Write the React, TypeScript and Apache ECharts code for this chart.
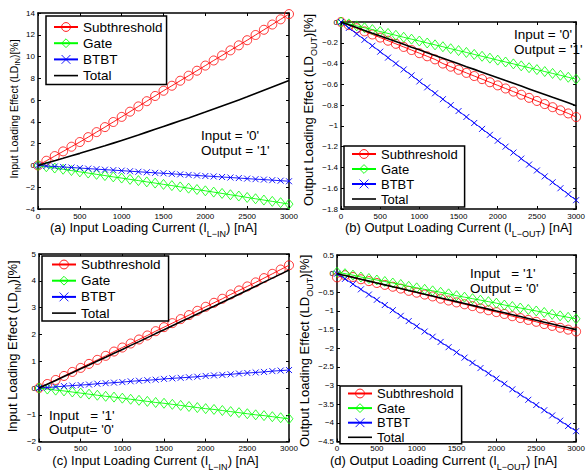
import React, { useEffect, useRef } from "react";
import * as echarts from "echarts";

// Load current [nA]
const X_NA = [0, 100, 200, 300, 400, 500, 600, 700, 800, 900, 1000, 1100, 1200, 1300, 1400, 1500, 1600, 1700, 1800, 1900, 2000, 2100, 2200, 2300, 2400, 2500, 2600, 2700, 2800, 2900, 3000];

// (a) Input loading, Input='0'
const A_SUB = [0, 0.43, 0.86, 1.29, 1.72, 2.15, 2.6, 3.06, 3.52, 3.99, 4.46, 4.94, 5.42, 5.9, 6.38, 6.86, 7.32, 7.78, 8.24, 8.7, 9.17, 9.64, 10.1, 10.57, 11.03, 11.5, 11.98, 12.46, 12.94, 13.42, 13.9];
const A_GATE = [0, -0.12, -0.24, -0.35, -0.47, -0.59, -0.7, -0.82, -0.93, -1.05, -1.16, -1.28, -1.39, -1.51, -1.62, -1.74, -1.85, -1.97, -2.09, -2.21, -2.33, -2.45, -2.57, -2.69, -2.81, -2.94, -3.06, -3.18, -3.3, -3.42, -3.55];
const A_BTBT = [0, -0.05, -0.1, -0.14, -0.19, -0.24, -0.29, -0.34, -0.39, -0.43, -0.48, -0.53, -0.58, -0.63, -0.68, -0.72, -0.77, -0.82, -0.87, -0.92, -0.97, -1.01, -1.06, -1.11, -1.16, -1.21, -1.26, -1.3, -1.35, -1.4, -1.45];
const A_TOTAL = [0, 0.22, 0.44, 0.66, 0.89, 1.11, 1.34, 1.57, 1.8, 2.05, 2.3, 2.55, 2.8, 3.06, 3.32, 3.58, 3.84, 4.1, 4.36, 4.63, 4.9, 5.18, 5.46, 5.74, 6.02, 6.3, 6.6, 6.9, 7.2, 7.5, 7.8];

// (b) Output loading, Input='0'
const B_SUB = [0, -0.03, -0.06, -0.09, -0.12, -0.15, -0.18, -0.21, -0.24, -0.27, -0.3, -0.33, -0.36, -0.4, -0.43, -0.46, -0.49, -0.52, -0.55, -0.58, -0.61, -0.64, -0.67, -0.7, -0.73, -0.76, -0.79, -0.82, -0.85, -0.88, -0.915];
const B_GATE = [0, -0.018, -0.037, -0.055, -0.073, -0.092, -0.11, -0.128, -0.147, -0.165, -0.183, -0.202, -0.22, -0.238, -0.257, -0.275, -0.293, -0.312, -0.33, -0.348, -0.367, -0.385, -0.403, -0.422, -0.44, -0.458, -0.477, -0.495, -0.513, -0.532, -0.55];
const B_BTBT = [0, -0.057, -0.114, -0.171, -0.229, -0.286, -0.343, -0.4, -0.457, -0.514, -0.572, -0.629, -0.686, -0.743, -0.8, -0.857, -0.914, -0.972, -1.029, -1.086, -1.143, -1.2, -1.257, -1.315, -1.372, -1.429, -1.486, -1.543, -1.6, -1.658, -1.715];
const B_TOTAL = [0, -0.027, -0.054, -0.081, -0.108, -0.134, -0.161, -0.188, -0.215, -0.242, -0.268, -0.295, -0.322, -0.349, -0.376, -0.403, -0.43, -0.456, -0.483, -0.51, -0.537, -0.564, -0.59, -0.617, -0.644, -0.671, -0.698, -0.725, -0.751, -0.778, -0.805];

// (c) Input loading, Input='1'
const C_SUB = [0, 0.15, 0.3, 0.45, 0.6, 0.75, 0.9, 1.05, 1.2, 1.36, 1.51, 1.66, 1.81, 1.96, 2.12, 2.27, 2.42, 2.57, 2.72, 2.88, 3.03, 3.18, 3.33, 3.49, 3.64, 3.79, 3.94, 4.1, 4.26, 4.42, 4.58];
const C_GATE = [0, -0.04, -0.08, -0.11, -0.15, -0.19, -0.23, -0.27, -0.31, -0.34, -0.38, -0.42, -0.46, -0.5, -0.54, -0.57, -0.61, -0.65, -0.69, -0.73, -0.77, -0.8, -0.84, -0.88, -0.92, -0.96, -1.0, -1.03, -1.07, -1.11, -1.15];
const C_BTBT = [0, 0.02, 0.04, 0.07, 0.09, 0.11, 0.13, 0.16, 0.18, 0.2, 0.22, 0.25, 0.27, 0.29, 0.31, 0.34, 0.36, 0.38, 0.4, 0.42, 0.45, 0.47, 0.49, 0.51, 0.54, 0.56, 0.58, 0.6, 0.63, 0.65, 0.67];
const C_TOTAL = [0, 0.14, 0.28, 0.43, 0.57, 0.72, 0.86, 1.01, 1.15, 1.3, 1.44, 1.59, 1.73, 1.88, 2.03, 2.17, 2.32, 2.47, 2.61, 2.76, 2.91, 3.05, 3.2, 3.35, 3.5, 3.65, 3.8, 3.95, 4.1, 4.25, 4.4];

// (d) Output loading, Input='1'
const D_SUB = [-0.1, -0.04, -0.09, -0.15, -0.2, -0.25, -0.3, -0.35, -0.4, -0.46, -0.51, -0.56, -0.61, -0.67, -0.72, -0.77, -0.82, -0.87, -0.93, -0.98, -1.03, -1.08, -1.14, -1.19, -1.24, -1.29, -1.35, -1.4, -1.45, -1.5, -1.55];
const D_GATE = [0.04, 0.0, -0.04, -0.09, -0.13, -0.17, -0.21, -0.25, -0.29, -0.34, -0.38, -0.42, -0.46, -0.5, -0.54, -0.59, -0.63, -0.67, -0.71, -0.75, -0.79, -0.84, -0.88, -0.92, -0.96, -1.0, -1.04, -1.09, -1.13, -1.17, -1.21];
const D_BTBT = [0, -0.14, -0.28, -0.42, -0.56, -0.7, -0.84, -0.98, -1.13, -1.27, -1.41, -1.55, -1.69, -1.83, -1.97, -2.11, -2.25, -2.39, -2.53, -2.67, -2.81, -2.95, -3.1, -3.24, -3.38, -3.52, -3.66, -3.8, -3.94, -4.08, -4.22];
const D_TOTAL = [0, -0.05, -0.1, -0.15, -0.2, -0.25, -0.3, -0.35, -0.4, -0.45, -0.5, -0.55, -0.6, -0.65, -0.7, -0.75, -0.8, -0.85, -0.9, -0.95, -1.0, -1.05, -1.1, -1.15, -1.2, -1.25, -1.3, -1.35, -1.4, -1.45, -1.5];

const SERIES_NAMES = ["Subthreshold", "Gate", "BTBT", "Total"];

const FONT = '"Liberation Sans", Arial, Helvetica, sans-serif';
const RED = "#ff0000";
const GREEN = "#00ff00";
const BLUE = "#0000ff";
const BLACK = "#000000";
const CROSS = "path://M0,0L10,10M10,0L0,10";

type Panel = {
  grid: any;
  y: { min: number; max: number; interval: number };
  data: number[][];
  xName: string;
  xGap: number;
  xPad: number[];
  yName: string;
  yGap: number;
  yPad: number[];
  ySmall?: boolean;
  legend: any;
  notes: { text: string; x: number; y: number }[];
};

const PANELS: Panel[] = [
  {
    grid: { left: 38, top: 13, width: 251, height: 196 },
    y: { min: -4, max: 14, interval: 2 },
    data: [A_SUB, A_GATE, A_BTBT, A_TOTAL],
    xName: "{m|(a) Input Loading Current (I}{s|L−IN}{m|) [nA]}",
    xGap: -3,
    xPad: [0, 20, 0, 0],
    yName: "{m|Input Loading Effect (LD}{s|IN}{m|)[%]}",
    yGap: 16,
    yPad: [0, 0, 0, 4],
    ySmall: true,
    legend: { left: 46, top: 16, fontSize: 13.5, itemGap: 2.2, padding: [4, 4, 2, 7] },
    notes: [
      { text: "Input = '0'", x: 201, y: 135 },
      { text: "Output = '1'", x: 201, y: 150 },
    ],
  },
  {
    grid: { left: 341, top: 22, width: 241, height: 187 },
    y: { min: -1.8, max: 0, interval: 0.2 },
    data: [B_SUB, B_GATE, B_BTBT, B_TOTAL],
    xName: "{m|(b) Output Loading Current (I}{s|L−OUT}{m|) [nA]}",
    xGap: -2,
    xPad: [0, 0, 0, 0],
    yName: "{m|Output Loading Effect (LD}{s|OUT}{m|)[%]}",
    yGap: 18,
    yPad: [0, 0, 0, 11],
    legend: { left: 344, top: 146, fontSize: 13, itemGap: 2, padding: [1.5, 7, 1.5, 7] },
    notes: [
      { text: "Input = '0'", x: 514, y: 34 },
      { text: "Output = '1'", x: 514, y: 49 },
    ],
  },
  {
    grid: { left: 39, top: 254, width: 250, height: 194 },
    y: { min: -2, max: 5, interval: 1 },
    data: [C_SUB, C_GATE, C_BTBT, C_TOTAL],
    xName: "{m|(c) Input Loading Current (I}{s|L−IN}{m|) [nA]}",
    xGap: 2,
    xPad: [0, 17, 0, 0],
    yName: "{m|Input Loading Effect (LD}{s|IN}{m|)[%]}",
    yGap: 15,
    yPad: [0, 0, 0, 3],
    legend: { left: 42, top: 256, fontSize: 13.5, itemGap: 2.2, padding: [1.5, 8, 1, 9] },
    notes: [
      { text: "Input   = '1'", x: 49, y: 415 },
      { text: "Output= '0'", x: 49, y: 429 },
    ],
  },
  {
    grid: { left: 337, top: 255, width: 246, height: 193 },
    y: { min: -4.5, max: 0.5, interval: 0.5 },
    data: [D_SUB, D_GATE, D_BTBT, D_TOTAL],
    xName: "{m|(d) Output Loading Current (I}{s|L−OUT}{m|) [nA]}",
    xGap: 2,
    xPad: [0, 26, 0, 0],
    yName: "{m|Output Loading Effect (LD}{s|OUT}{m|)[%]}",
    yGap: 14,
    yPad: [0, 5, 0, 0],
    legend: { left: 340, top: 386, fontSize: 13, itemGap: 1.6, padding: [1, 8, 0, 7] },
    notes: [
      { text: "Input   = '1'", x: 470, y: 273 },
      { text: "Output = '0'", x: 470, y: 288 },
    ],
  },
];

const fmtTick = (v: number) => String(Math.round(v * 100) / 100).replace("-", "−");
const fmtX = (v: number) => String(v);

function buildOption() {
  const grid: any[] = [];
  const xAxis: any[] = [];
  const yAxis: any[] = [];
  const series: any[] = [];
  const legend: any[] = [];
  const graphic: any[] = [];
  const axisLine = { show: true, onZero: false, lineStyle: { color: BLACK, width: 1.5 } };
  const axisTick = { show: true, inside: true, length: 3, lineStyle: { color: BLACK, width: 1 } };
  const tickLabel = { fontSize: 8, color: "#000", fontFamily: FONT };

  PANELS.forEach((p, i) => {
    grid.push({ ...p.grid, containLabel: false });
    const big = p.ySmall ? 10.5 : 13;
    const small = p.ySmall ? 7.5 : 9;
    xAxis.push({
      type: "value", gridIndex: i, position: "bottom", min: 0, max: 3000, interval: 500,
      axisLine, axisTick, splitLine: { show: false },
      axisLabel: { ...tickLabel, margin: 3, formatter: fmtX, showMaxLabel: true, showMinLabel: true },
      name: p.xName, nameLocation: "middle", nameGap: p.xGap,
      nameTextStyle: {
        padding: p.xPad,
        rich: {
          m: { fontSize: 13, fontFamily: FONT, color: BLACK },
          s: { fontSize: 9, fontFamily: FONT, color: BLACK, padding: [13, 0, 0, 0] },
        },
      },
    });
    xAxis.push({
      type: "value", gridIndex: i, position: "top", min: 0, max: 3000, interval: 500,
      axisLine, axisTick, splitLine: { show: false }, axisLabel: { show: false },
    });
    yAxis.push({
      type: "value", gridIndex: i, position: "left", min: p.y.min, max: p.y.max, interval: p.y.interval,
      axisLine, axisTick, splitLine: { show: false },
      axisLabel: { ...tickLabel, margin: 3, formatter: fmtTick, showMaxLabel: true, showMinLabel: true },
      name: p.yName, nameLocation: "middle", nameGap: p.yGap,
      nameTextStyle: {
        padding: p.yPad,
        rich: {
          m: { fontSize: big, fontFamily: FONT, color: BLACK },
          s: { fontSize: small, fontFamily: FONT, color: BLACK, padding: [p.ySmall ? 8 : 11, 0, 0, 0] },
        },
      },
    });
    yAxis.push({
      type: "value", gridIndex: i, position: "right", min: p.y.min, max: p.y.max, interval: p.y.interval,
      axisLine, axisTick, splitLine: { show: false }, axisLabel: { show: false },
    });

    const xi = i * 2;
    const yi = i * 2;
    const pts = (vals: number[]) => X_NA.map((x, k) => [x, vals[k]]);
    series.push({
      name: SERIES_NAMES[0], type: "line", xAxisIndex: xi, yAxisIndex: yi, data: pts(p.data[0]),
      symbol: "circle", symbolSize: 9,
      itemStyle: { color: "rgba(255,255,255,0)", borderColor: RED, borderWidth: 0.8 },
      lineStyle: { color: RED, width: 0.9 }, z: 2,
    });
    series.push({
      name: SERIES_NAMES[1], type: "line", xAxisIndex: xi, yAxisIndex: yi, data: pts(p.data[1]),
      symbol: "diamond", symbolSize: [8, 10],
      itemStyle: { color: "rgba(255,255,255,0)", borderColor: GREEN, borderWidth: 0.8 },
      lineStyle: { color: GREEN, width: 0.9 }, z: 3,
    });
    series.push({
      name: SERIES_NAMES[2], type: "line", xAxisIndex: xi, yAxisIndex: yi, data: pts(p.data[2]),
      symbol: CROSS, symbolSize: 6,
      itemStyle: { color: "rgba(255,255,255,0)", borderColor: BLUE, borderWidth: 0.9 },
      lineStyle: { color: BLUE, width: 0.9 }, z: 4,
    });
    series.push({
      name: SERIES_NAMES[3], type: "line", xAxisIndex: xi, yAxisIndex: yi, data: pts(p.data[3]),
      symbol: "none", showSymbol: false,
      itemStyle: { color: BLACK },
      lineStyle: { color: BLACK, width: 1.6 }, z: 5,
    });

    legend.push({
      show: true, orient: "vertical", left: p.legend.left, top: p.legend.top,
      itemWidth: 24, itemHeight: 11, itemGap: p.legend.itemGap, padding: p.legend.padding,
      borderColor: BLACK, borderWidth: 1.5, backgroundColor: "#ffffff", selectedMode: false,
      itemStyle: { borderWidth: 0.9 },
      textStyle: { fontSize: p.legend.fontSize, fontFamily: FONT, color: BLACK },
      data: [
        SERIES_NAMES[0], SERIES_NAMES[1], SERIES_NAMES[2],
        { name: SERIES_NAMES[3], icon: "path://M0,0L24,0L24,1.6L0,1.6Z" },
      ],
    });

    p.notes.forEach((n) => {
      graphic.push({
        type: "text", x: n.x, y: n.y, z: 10,
        style: { text: n.text, fontSize: 13.5, fontFamily: FONT, fill: BLACK, verticalAlign: "middle", align: "left" },
      });
    });
  });

  return {
    animation: false,
    backgroundColor: "#ffffff",
    textStyle: { fontFamily: FONT },
    grid, xAxis, yAxis, series, legend, graphic,
  };
}

export default function App() {
  const ref = useRef<HTMLDivElement | null>(null);
  useEffect(() => {
    if (!ref.current) return;
    const chart = echarts.init(ref.current, undefined, { renderer: "svg" });
    chart.setOption(buildOption() as any);
    return () => chart.dispose();
  }, []);
  return (
    <div
      ref={ref}
      style={{ position: "absolute", left: 0, top: 0, width: 588, height: 472, background: "#fff" }}
    />
  );
}
